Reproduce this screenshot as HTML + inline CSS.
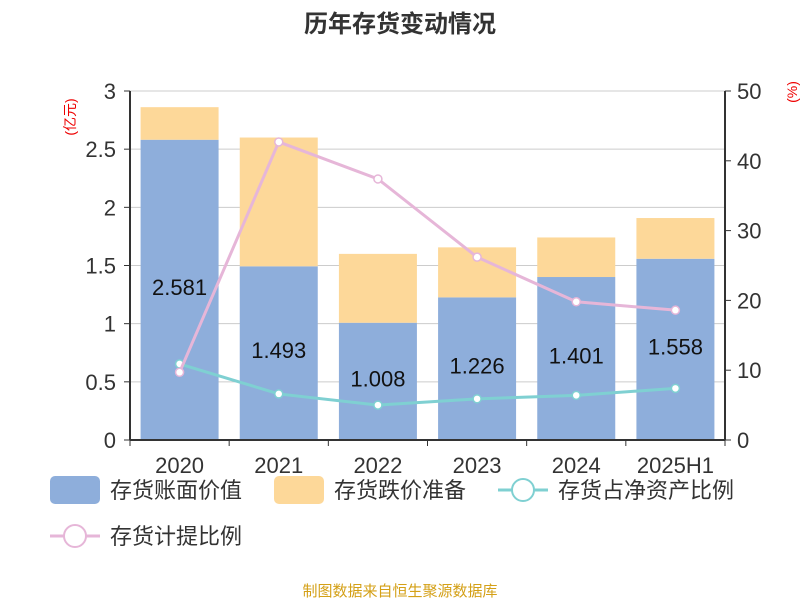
<!DOCTYPE html>
<html><head><meta charset="utf-8">
<style>
body{margin:0;background:#fff;font-family:"Liberation Sans","Noto Sans CJK SC",sans-serif;}
svg text{font-family:"Liberation Sans","Noto Sans CJK SC",sans-serif;}
</style></head>
<body>
<svg id="c" width="800" height="600" xmlns="http://www.w3.org/2000/svg">
<text x="400" y="32" text-anchor="middle" font-size="24" font-weight="bold" fill="#333">历年存货变动情况</text>
<text transform="translate(75,117) rotate(-90)" text-anchor="middle" font-size="14" fill="#e00">(亿元)</text>
<text transform="translate(797,92) rotate(-90)" text-anchor="middle" font-size="14" fill="#e00">(%)</text>
<g id="grid"></g><g id="bars"></g><g id="axes"></g><g id="lines"></g>
<g>
<rect x="50" y="476" width="50" height="28" rx="5" fill="#8eaedb"/>
<text x="110" y="498" font-size="22" fill="#333">存货账面价值</text>
<rect x="274" y="476" width="50" height="28" rx="5" fill="#fdd899"/>
<text x="334" y="498" font-size="22" fill="#333">存货跌价准备</text>
<line x1="498" y1="490" x2="548" y2="490" stroke="#7fd0d2" stroke-width="3"/>
<circle cx="523" cy="490" r="11" fill="#fff" stroke="#7fd0d2" stroke-width="2"/>
<text x="558" y="498" font-size="22" fill="#333">存货占净资产比例</text>
<line x1="50" y1="536" x2="100" y2="536" stroke="#e6b6d8" stroke-width="3"/>
<circle cx="75" cy="536" r="11" fill="#fff" stroke="#e6b6d8" stroke-width="2"/>
<text x="110" y="544" font-size="22" fill="#333">存货计提比例</text>
</g>
<text x="400" y="596" text-anchor="middle" font-size="15" fill="#d4a017">制图数据来自恒生聚源数据库</text>
</svg>
<script>
const categories=["2020","2021","2022","2023","2024","2025H1"];
const bookValue=[2.581,1.493,1.008,1.226,1.401,1.558];
const impairment=[0.28,1.107,0.592,0.43,0.34,0.35];
const netAssetRatio=[10.9,6.6,5.0,5.9,6.4,7.4];
const provisionRatio=[9.7,42.7,37.4,26.2,19.8,18.6];
const leftTicks=["0","0.5","1","1.5","2","2.5","3"];
const rightTicks=["0","10","20","30","40","50"];
const NS="http://www.w3.org/2000/svg";
const L=130,R=725,T=91,B=440;
const band=(R-L)/categories.length;
const xc=i=>L+band*(i+0.5);
const yl=v=>B-(v/3)*(B-T);
const yr=v=>B-(v/50)*(B-T);
function mk(p,tag,a){const e=document.createElementNS(NS,tag);for(const k in a)e.setAttribute(k,a[k]);document.getElementById(p).appendChild(e);return e;}
leftTicks.forEach(t=>{const v=parseFloat(t);
 if(v>0){const g=mk('grid','line',{x1:L,x2:R,y1:yl(v),y2:yl(v),stroke:'#ccc'});
 
 }
 const tk=mk('axes','line',{x1:L-6,x2:L,y1:yl(v),y2:yl(v),stroke:'#333'});
 
 
 const tx=mk('axes','text',{x:L-14,y:yl(v)+8,'text-anchor':'end','font-size':22,fill:'#333'});tx.textContent=t;
 
 });
rightTicks.forEach(t=>{const v=parseFloat(t);
 const tk=mk('axes','line',{x1:R,x2:R+6,y1:yr(v),y2:yr(v),stroke:'#333'});
 
 
 const tx=mk('axes','text',{x:R+12,y:yr(v)+8,'font-size':22,fill:'#333'});tx.textContent=t;
 
 });
categories.forEach((c,i)=>{const w=78,x=xc(i)-w/2;
 const b=mk('bars','rect',{x:x,y:yl(bookValue[i]),width:w,height:B-yl(bookValue[i]),fill:'#8eaedb'});
 
 
 const tot=bookValue[i]+impairment[i];
 const y2=mk('bars','rect',{x:x,y:yl(tot),width:w,height:yl(bookValue[i])-yl(tot),fill:'#fdd899'});
 
 
 const lb=mk('bars','text',{x:xc(i),y:(yl(bookValue[i])+B)/2+5,'text-anchor':'middle','font-size':22,fill:'#111'});lb.textContent=bookValue[i].toFixed(3);
 
 
 const tk=mk('axes','line',{x1:L+band*i,x2:L+band*i,y1:B,y2:B+6,stroke:'#333'});
 
 
 const tx=mk('axes','text',{x:xc(i),y:B+33,'text-anchor':'middle','font-size':22,fill:'#333'});tx.textContent=c;
 
 });
const tkE=mk('axes','line',{x1:R,x2:R,y1:B,y2:B+6,stroke:'#333'});


const ax=mk('axes','line',{x1:L,x2:R,y1:B,y2:B,stroke:'#333','stroke-width':2});


const al=mk('axes','line',{x1:L,x2:L,y1:T,y2:B,stroke:'#333','stroke-width':2});


const ar=mk('axes','line',{x1:R,x2:R,y1:T,y2:B,stroke:'#333','stroke-width':2});


function series(vals,color,name){
 const pl=mk('lines','polyline',{points:vals.map((v,i)=>xc(i)+','+yr(v)).join(' '),fill:'none',stroke:color,'stroke-width':3});
 
 
 vals.forEach((v,i)=>{const p=mk('lines','circle',{cx:xc(i),cy:yr(v),r:4,fill:'#fff',stroke:color,'stroke-width':1.5});
 
 });}
series(netAssetRatio,'#7fd0d2','net-asset-ratio');
series(provisionRatio,'#e6b6d8','provision-ratio');
</script>
</body></html>
